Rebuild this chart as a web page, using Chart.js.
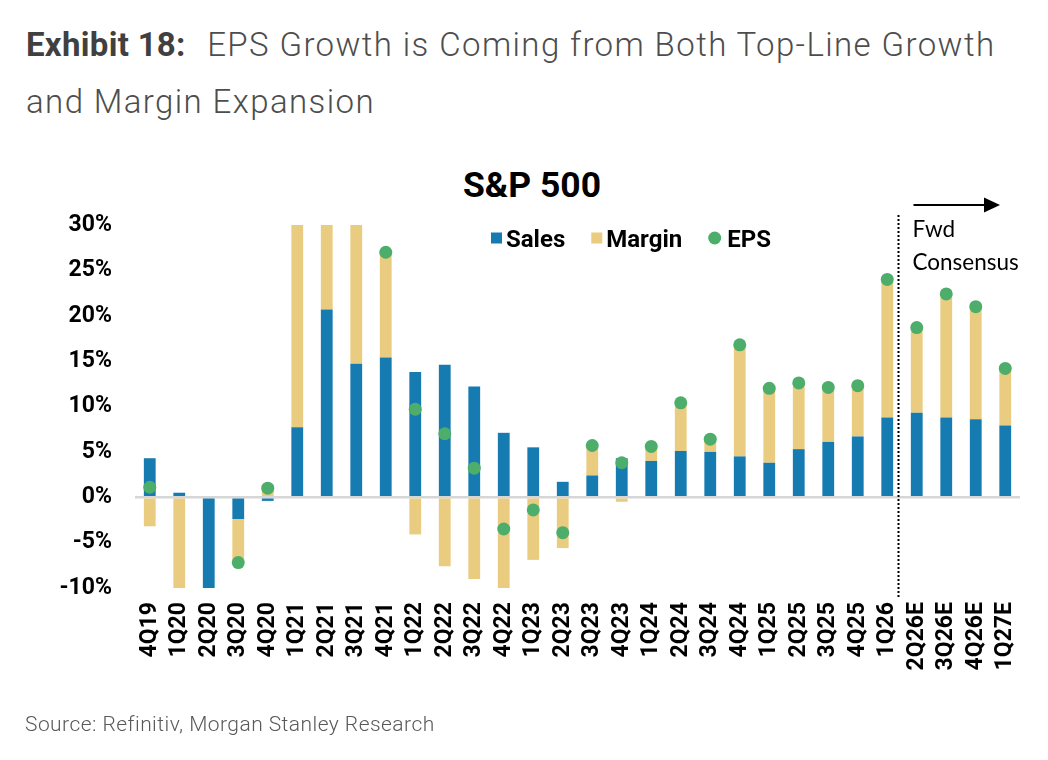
<!DOCTYPE html>
<html>
<head>
<meta charset="utf-8">
<script src="https://cdn.jsdelivr.net/npm/chart.js@4.4.1/dist/chart.umd.min.js"></script>
<style>
  html, body { margin: 0; padding: 0; background: #fff; }
  #page { position: relative; width: 1048px; height: 760px; overflow: hidden; font-family: Roboto, sans-serif; }
  #hdr { position: absolute; left: 26px; top: 16px; font-size: 33px; line-height: 57px; color: #4d4d4d; font-weight: 300; white-space: nowrap; letter-spacing: 1.4px; }
  #hdr b { font-weight: 700; color: #404040; margin-right: 12px; letter-spacing: 0.3px; }
  #ctitle { position: absolute; left: 0; width: 1064px; top: 165px; text-align: center; font: 700 35.5px/40px Roboto, sans-serif; color: #000; }
  #src { position: absolute; left: 25px; top: 712px; font-size: 21px; line-height: 24px; color: #595959; font-weight: 300; white-space: nowrap; letter-spacing: 0.45px; }
  #chartBox { position: absolute; left: 0; top: 0; width: 1048px; height: 760px; }
</style>
</head>
<body>
<div id="page">
  <div id="hdr"><b>Exhibit 18:</b> EPS Growth is Coming from Both Top-Line Growth<br>and Margin Expansion</div>
  <div id="ctitle">S&amp;P 500</div>
  <div id="chartBox"><canvas id="c" width="1048" height="760"></canvas></div>
  <div id="src">Source: Refinitiv, Morgan Stanley Research</div>
</div>
<script>
// ---- Data (values in %) ----
const categories = ['4Q19','1Q20','2Q20','3Q20','4Q20','1Q21','2Q21','3Q21','4Q21','1Q22','2Q22','3Q22','4Q22','1Q23','2Q23','3Q23','4Q23','1Q24','2Q24','3Q24','4Q24','1Q25','2Q25','3Q25','4Q25','1Q26','2Q26E','3Q26E','4Q26E','1Q27E'];
const sales  = [4.3, 0.5, -11.5, -2.4, -0.4, 7.7, 20.7, 14.7, 15.4, 13.8, 14.6, 12.2, 7.1, 5.5, 1.7, 2.4, 4.3, 4.0, 5.1, 5.0, 4.5, 3.8, 5.3, 6.1, 6.7, 8.8, 9.3, 8.8, 8.6, 7.9];
const margin = [-3.2, -13.5, -20.0, -4.8, 1.4, 40.3, 69.3, 25.3, 11.6, -4.1, -7.6, -9.0, -10.6, -6.9, -5.6, 3.3, -0.5, 1.6, 5.3, 1.4, 12.3, 8.2, 7.3, 6.0, 5.6, 15.2, 9.4, 13.6, 12.4, 6.3];
const eps    = [1.1, -13.0, -31.5, -7.2, 1.0, 48.0, 90.0, 40.0, 27.0, 9.7, 7.0, 3.2, -3.5, -1.4, -3.9, 5.7, 3.8, 5.6, 10.4, 6.4, 16.8, 12.0, 12.6, 12.1, 12.3, 24.0, 18.7, 22.4, 21.0, 14.2];
const yMin = -10, yMax = 30, yStep = 5;
const forecastStart = '2Q26E';
const fwdLabel = ['Fwd', 'Consensus'];

const BLUE = '#157BB1', GOLD = '#E9CC7F', GREEN = '#4CAE6A';

const overlay = {
  id: 'overlay',
  afterDraw(chart) {
    const { ctx, chartArea: a, scales: { x } } = chart;
    ctx.save();
    // Legend
    ctx.font = '700 24px Roboto, sans-serif';
    ctx.textBaseline = 'alphabetic';
    ctx.fillStyle = '#000';
    let lx = a.left + 356;
    const ly = 238;
    chart.data.datasets.forEach(ds => {
      ctx.fillStyle = ds.backgroundColor;
      if (ds.type === 'line') {
        ctx.beginPath(); ctx.arc(lx + 6.5, ly, 6.5, 0, Math.PI * 2); ctx.fill();
        lx += 13 + 6;
      } else {
        ctx.fillRect(lx, ly - 5.5, 11, 11);
        lx += 11 + 4;
      }
      ctx.fillStyle = '#000';
      ctx.fillText(ds.label, lx, ly + 8.5);
      lx += ctx.measureText(ds.label).width + 26;
    });
    // Forecast divider
    const i = categories.indexOf(forecastStart);
    const p0 = x.getPixelForValue(i - 1), p1 = x.getPixelForValue(i);
    const dx = Math.round(p0 + 0.37 * (p1 - p0)) + 0.5;
    ctx.strokeStyle = '#000';
    ctx.lineWidth = 2;
    ctx.setLineDash([2, 2]);
    ctx.beginPath(); ctx.moveTo(dx, a.top - 10); ctx.lineTo(dx, a.bottom + 9); ctx.stroke();
    ctx.setLineDash([]);
    // Arrow
    const ax0 = dx + 15, ax1 = a.right - 20, ay = a.top - 20;
    ctx.beginPath(); ctx.moveTo(ax0, ay); ctx.lineTo(ax1 - 12, ay); ctx.stroke();
    ctx.fillStyle = '#000';
    ctx.beginPath(); ctx.moveTo(ax1, ay); ctx.lineTo(ax1 - 16, ay - 7.5); ctx.lineTo(ax1 - 16, ay + 7.5); ctx.closePath(); ctx.fill();
    // Fwd Consensus text
    ctx.font = '400 22.5px Lato, "Open Sans", sans-serif';
    ctx.fillText(fwdLabel[0], dx + 14, a.top + 12);
    ctx.fillText(fwdLabel[1], dx + 14, a.top + 45);
    ctx.restore();
  }
};

new Chart(document.getElementById('c'), {
  type: 'bar',
  data: {
    labels: categories,
    datasets: [
      { label: 'Sales', data: sales, backgroundColor: BLUE, stack: 'sm', borderWidth: 0, clip: 0, order: 2 },
      { label: 'Margin', data: margin, backgroundColor: GOLD, stack: 'sm', borderWidth: 0, clip: 0, order: 2 },
      { label: 'EPS', type: 'line', data: eps, stack: 'eps', showLine: false, backgroundColor: GREEN, borderColor: GREEN,
        pointRadius: 6.5, pointBorderWidth: 0, pointHoverRadius: 6.5, order: 1 }
    ]
  },
  options: {
    responsive: false,
    animation: false,
    devicePixelRatio: 1,
    layout: { padding: { top: 225, left: 0, right: 28, bottom: 0 } },
    categoryPercentage: 0.8,
    barPercentage: 0.5,
    plugins: { legend: { display: false }, title: { display: false }, tooltip: { enabled: false } },
    scales: {
      x: {
        stacked: true,
        grid: { display: false, drawTicks: false },
        border: { display: false },
        ticks: { autoSkip: false, minRotation: 90, maxRotation: 90, padding: 14, color: '#000',
                 font: { family: 'Roboto', weight: '700', size: 23 } },
        afterFit(scale) { scale.height = 172; }
      },
      y: {
        stacked: true,
        min: yMin, max: yMax,
        grid: { drawTicks: false, lineWidth: 2.5,
                color: c => (c.tick && c.tick.value === 0) ? '#d6d6d6' : 'rgba(0,0,0,0)' },
        border: { display: false },
        ticks: { stepSize: yStep, padding: 23, color: '#000',
                 font: { family: 'Roboto', weight: '700', size: 23 },
                 callback: v => v + '%' },
        afterFit(scale) { scale.width = 135; }
      }
    }
  },
  plugins: [overlay]
});
</script>
</body>
</html>
